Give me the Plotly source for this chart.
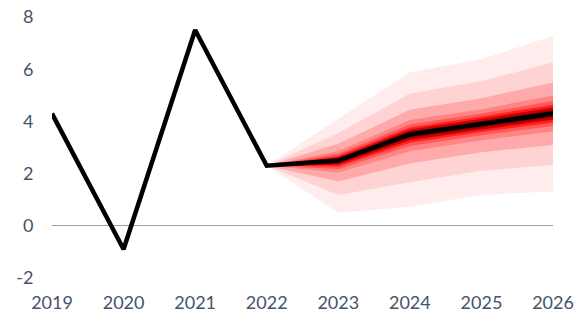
import plotly.graph_objects as go

years = [2019, 2020, 2021, 2022, 2023, 2024, 2025, 2026]
actual = [4.3, -0.9, 7.5, 2.3, 2.5, 3.5, 3.9, 4.3]

y_ticks = [-2, 0, 2, 4, 6, 8]
y_tick_labels = ["-2", "0", "2", "4", "6", "8"]

fan_years = [2022, 2023, 2024, 2025, 2026]
# band boundaries, outermost to innermost
upper_bands = [
    [2.3, 4.10, 5.88, 6.38, 7.28],
    [2.3, 3.56, 5.07, 5.54, 6.27],
    [2.3, 3.14, 4.45, 4.89, 5.49],
    [2.3, 2.87, 4.05, 4.47, 4.99],
    [2.3, 2.76, 3.88, 4.30, 4.78],
    [2.3, 2.68, 3.77, 4.19, 4.64],
    [2.3, 2.63, 3.69, 4.10, 4.54],
    [2.3, 2.58, 3.62, 4.02, 4.45],
    [2.3, 2.54, 3.56, 3.96, 4.37],
]
lower_bands = [
    [2.3, 0.50, 0.73, 1.19, 1.31],
    [2.3, 1.18, 1.67, 2.11, 2.33],
    [2.3, 1.70, 2.39, 2.82, 3.10],
    [2.3, 2.04, 2.86, 3.28, 3.61],
    [2.3, 2.18, 3.06, 3.47, 3.82],
    [2.3, 2.27, 3.18, 3.59, 3.96],
    [2.3, 2.34, 3.28, 3.68, 4.06],
    [2.3, 2.40, 3.36, 3.76, 4.15],
    [2.3, 2.45, 3.43, 3.83, 4.23],
]
band_colors = ["#FFEDED", "#FFD3D3", "#FFAAAA", "#FF8585", "#FF5A5A",
               "#FF2020", "#D00000", "#900000", "#500000"]

fig = go.Figure()
for up, lo, col in zip(upper_bands, lower_bands, band_colors):
    fig.add_trace(go.Scatter(
        x=fan_years + fan_years[::-1],
        y=up + lo[::-1],
        fill="toself", fillcolor=col, mode="none",
        line=dict(width=0), hoverinfo="skip", showlegend=False))

fig.add_trace(go.Scatter(x=years, y=actual, mode="lines",
                         line=dict(color="black", width=4.5),
                         showlegend=False))

font_color = "#44546A"
fig.update_layout(
    width=582, height=314,
    margin=dict(l=52, r=29, t=17, b=36),
    paper_bgcolor="white", plot_bgcolor="white",
    font=dict(family="Lato, Open Sans, sans-serif", size=18, color=font_color),
    xaxis=dict(range=[2019, 2026], tickmode="array", tickvals=years,
               ticktext=[str(y) for y in years], showgrid=False,
               zeroline=False, showline=False, automargin=False,
               ticklabeloverflow="allow",
               ticks="outside", ticklen=8, tickcolor="rgba(0,0,0,0)"),
    yaxis=dict(range=[-2, 8], tickmode="array", tickvals=y_ticks,
               ticktext=y_tick_labels, showgrid=False,
               zeroline=True, zerolinecolor="#A0A0A0", zerolinewidth=1,
               showline=False, automargin=False,
               ticklabeloverflow="allow",
               ticks="outside", ticklen=14, tickcolor="rgba(0,0,0,0)"),
)
fig.write_html("out.html",
               config={"displayModeBar": False},
               post_script="document.body.style.margin='0';")
